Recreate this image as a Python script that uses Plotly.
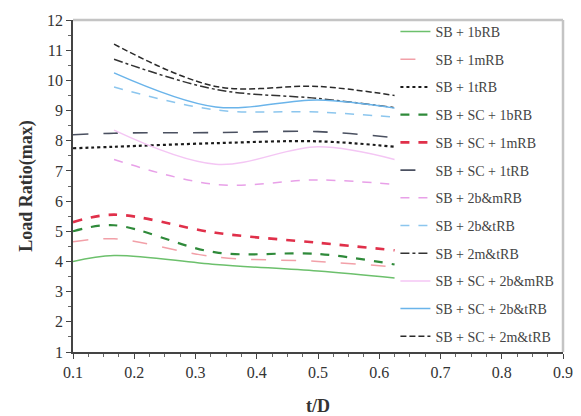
import plotly.graph_objects as go

# t/D sample points
x_full = [0.1, 0.167, 0.333, 0.5, 0.625]
x_part = [0.167, 0.333, 0.5, 0.625]

sb_1b = [4.0, 4.2, 3.9, 3.68, 3.45]
sb_1m = [4.65, 4.75, 4.15, 4.0, 3.82]
sb_1t = [7.75, 7.8, 7.92, 7.98, 7.8]
sbsc_1b = [5.0, 5.2, 4.3, 4.25, 3.9]
sbsc_1m = [5.3, 5.55, 4.95, 4.62, 4.37]
sbsc_1t = [8.2, 8.25, 8.27, 8.3, 8.1]
sb_2bm = [7.38, 6.55, 6.7, 6.55]
sb_2bt = [9.78, 9.02, 8.95, 8.78]
sb_2mt = [10.7, 9.7, 9.4, 9.1]
sbsc_2bm = [8.35, 7.22, 7.8, 7.38]
sbsc_2bt = [10.25, 9.12, 9.35, 9.08]
sbsc_2mt = [11.2, 9.8, 9.8, 9.5]

series = [
    ("SB + 1bRB", x_full, sb_1b, "#6cc06c", 1.5, "solid"),
    ("SB + 1mRB", x_full, sb_1m, "#f2a0a8", 1.5, "longdash"),
    ("SB + 1tRB", x_full, sb_1t, "#1a1a1a", 2.2, "dot"),
    ("SB + SC + 1bRB", x_full, sbsc_1b, "#2f8a3a", 2.2, "dash"),
    ("SB + SC + 1mRB", x_full, sbsc_1m, "#e0304a", 2.6, "dash"),
    ("SB + SC + 1tRB", x_full, sbsc_1t, "#4a5060", 1.6, "longdash"),
    ("SB + 2b&mRB", x_part, sb_2bm, "#e8a0e8", 1.5, "dash"),
    ("SB + 2b&tRB", x_part, sb_2bt, "#8cc6ee", 1.5, "dash"),
    ("SB + 2m&tRB", x_part, sb_2mt, "#333333", 1.5, "dashdot"),
    ("SB + SC + 2b&mRB", x_part, sbsc_2bm, "#f4c6f4", 1.5, "solid"),
    ("SB + SC + 2b&tRB", x_part, sbsc_2bt, "#6ab4ea", 1.5, "solid"),
    ("SB + SC + 2m&tRB", x_part, sbsc_2mt, "#2a2a2a", 1.5, "6px,3px"),
]

fig = go.Figure()
for i, (name, xs, ys, col, w, dash) in enumerate(series):
    fig.add_trace(go.Scatter(
        x=xs, y=ys, name=name, mode="lines", legendgroup=f"g{i}",
        line=dict(color=col, width=w, dash=dash, shape="spline", smoothing=1.0),
    ))

serif = "Liberation Serif, Times New Roman, serif"
fig.update_layout(
    width=581, height=416,
    margin=dict(l=73, r=18, t=17, b=64),
    paper_bgcolor="white", plot_bgcolor="white",
    font=dict(family=serif, size=16, color="#333"),
    showlegend=True,
    legend=dict(
        x=0.658, y=1.012, xanchor="left", yanchor="top",
        bgcolor="rgba(255,255,255,0)", borderwidth=0,
        font=dict(family=serif, size=14, color="#444"),
        traceorder="grouped", tracegroupgap=6.5, itemwidth=30,
        maxheight=1.0,
    ),
    xaxis=dict(
        range=[0.1, 0.9], dtick=0.1, tick0=0.1, tickformat=".1f",
        showgrid=False, zeroline=False,
        showline=True, linecolor="#444", linewidth=1.5,
        ticks="outside", ticklen=5, tickcolor="#444",
        minor=dict(dtick=0.025, ticks="outside", ticklen=3, tickcolor="#666"),
        title=dict(text="<b>t/D</b>", font=dict(family=serif, size=18, color="#333"), standoff=20),
        automargin=False,
    ),
    yaxis=dict(
        range=[1, 12], dtick=1, tick0=1,
        showgrid=False, zeroline=False,
        showline=True, linecolor="#444", linewidth=1.5,
        ticks="outside", ticklen=5, tickcolor="#444",
        minor=dict(dtick=0.5, ticks="outside", ticklen=3, tickcolor="#666"),
        title=dict(text="<b>Load Ratio(max)</b>", font=dict(family=serif, size=18, color="#333"), standoff=10),
    ),
    shapes=[
        dict(type="line", xref="paper", yref="paper", x0=0, x1=1, y0=1, y1=1,
             line=dict(color="#c4c4c4", width=2.5)),
        dict(type="line", xref="paper", yref="paper", x0=1, x1=1, y0=0, y1=1,
             line=dict(color="#c4c4c4", width=2.5)),
    ],
)

fig.write_html("out.html")
